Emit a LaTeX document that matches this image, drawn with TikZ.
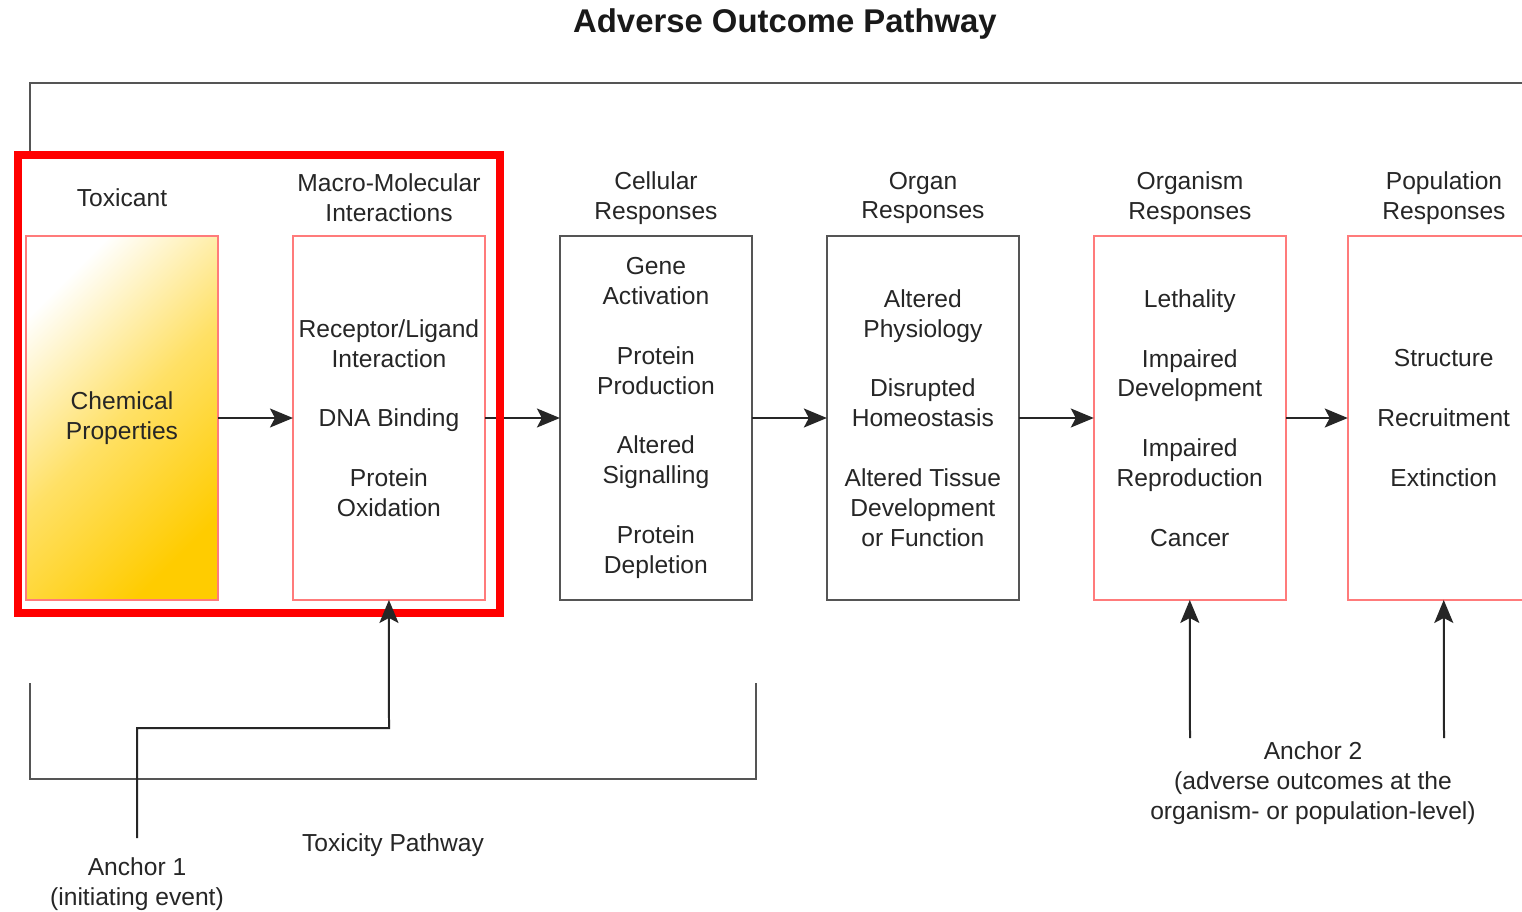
\documentclass[tikz,border=0pt]{standalone}
\usepackage{fontspec}
\setmainfont{Liberation Sans}
\usetikzlibrary{positioning}
\usetikzlibrary{arrows.meta}

\definecolor{aopred}{HTML}{FF0000}
\definecolor{boxred}{HTML}{FF7B7B}
\definecolor{gold}{HTML}{FFCC00}
\definecolor{linegray}{HTML}{555555}

\tikzset{
  stage/.style={draw=linegray,line width=0.04cm,outer sep=0pt,minimum width=3.84cm,minimum height=7.28cm,inner sep=0pt,align=center,text=black!85,font=\fontsize{14}{17}\selectfont},
  keystage/.style={stage,draw=boxred},
  head/.style={align=center,text=black!85,font=\fontsize{14}{17}\selectfont},
  arr/.style={draw=black!85,line width=0.04cm,-{Stealth[length=0.46cm,width=0.38cm,inset=0.1cm]}},
  brk/.style={draw=linegray,line width=0.04cm},
}

\begin{document}
\begin{tikzpicture}[x=0.02cm,y=-0.02cm]
\useasboundingbox (0,0) rectangle (1522,912);
\clip (0,0) rectangle (1522,912);
\fill[white] (0,0) rectangle (1522,912);

\node[font=\bfseries\fontsize{18.7}{22}\selectfont,text=black!90] (title) at (785,24) {Adverse Outcome Pathway};

% bracket over the whole pathway
\draw[brk] (30,155) -- (30,83) -- (1540,83);

% stages
\node[keystage,top color=white,bottom color=gold,middle color=gold!60,shading angle=45] (b1) at (122,418) {Chemical\\Properties};
\node[keystage,right=1.5cm of b1] (b2) {Receptor/Ligand\\Interaction\\[17pt]DNA Binding\\[17pt]Protein\\Oxidation};
\node[stage,right=1.5cm of b2] (b3) {Gene\\Activation\\[17pt]Protein\\Production\\[17pt]Altered\\Signalling\\[17pt]Protein\\Depletion};
\node[stage,right=1.5cm of b3] (b4) {Altered\\Physiology\\[17pt]Disrupted\\Homeostasis\\[17pt]Altered Tissue\\Development\\or Function};
\node[keystage,right=1.5cm of b4] (b5) {Lethality\\[17pt]Impaired\\Development\\[17pt]Impaired\\Reproduction\\[17pt]Cancer};
\node[keystage,right=1.24cm of b5] (b6) {Structure\\[17pt]Recruitment\\[17pt]Extinction};

% headers
\node[head] (h1) at (122,198) {Toxicant};
\node[head] (h2) at (389,198) {Macro-Molecular\\Interactions};
\node[head] (h3) at (656,198) {Cellular\\Responses};
\node[head] (h4) at (923,198) {Organ\\Responses};
\node[head] (h5) at (1190,198) {Organism\\Responses};
\node[head] (h6) at (1444,198) {Population\\Responses};

\draw[arr] (b1) -- (b2);
\draw[arr] (b2) -- (b3);
\draw[arr] (b3) -- (b4);
\draw[arr] (b4) -- (b5);
\draw[arr] (b5) -- (b6);

% toxicity pathway bracket
\draw[brk] (30,683) -- (30,779) -- (756,779) -- (756,683);
\node[head] (tox) at (393,845) {Toxicity Pathway};

% anchors
\node[head] (anc1) at (137,884) {Anchor 1\\(initiating event)};
\node[head] (anc2) at (1313,783) {Anchor 2\\(adverse outcomes at the\\organism- or population-level)};
\coordinate (a1) at (137,838);
\coordinate (k1) at (389,728);
\coordinate (a2l) at (1190,738);
\coordinate (a2r) at (1444,738);
\draw[arr] (a2l) -- (b5.south);
\draw[arr] (a2r) -- (b6.south);

% highlight
\draw[aopred,line width=0.16cm] (18,155) rectangle (500,613);

\draw[arr] (a1) |- (k1) -- (b2.south);

\end{tikzpicture}
\end{document}
